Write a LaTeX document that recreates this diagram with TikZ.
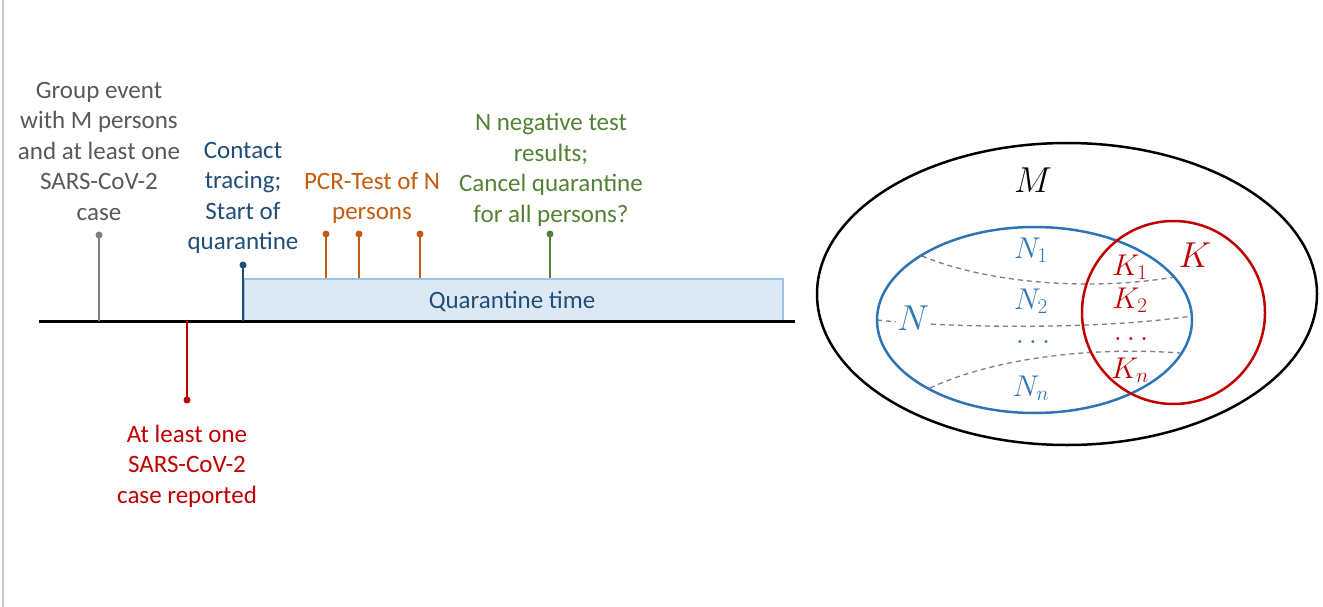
\RequirePackage{fix-cm}
\documentclass[tikz,border=0pt]{standalone}
\usepackage{fontspec}
\setmainfont{Carlito}
\definecolor{cgray}{HTML}{7F7F7F}
\definecolor{cgraytxt}{HTML}{595959}
\definecolor{cred}{HTML}{C00000}
\definecolor{cblue}{HTML}{1F4E79}
\definecolor{corange}{HTML}{C55A11}
\definecolor{cgreen}{HTML}{548235}
\definecolor{qfill}{HTML}{DDE8F5}
\definecolor{qline}{HTML}{9DC3E6}
\definecolor{vblue}{HTML}{2E75B6}
\definecolor{cframe}{HTML}{C8C8C8}
\begin{document}
\begin{tikzpicture}[x=1pt,y=-1pt,
  lbl/.style={font=\fontsize{25}{30.5}\selectfont, align=center, inner sep=0pt},
  stem/.style={line width=2pt},
  mlbl/.style={font=\fontsize{30}{34}\selectfont, inner sep=0pt},
  biglbl/.style={font=\fontsize{36}{40}\selectfont, inner sep=1pt},
  sep/.style={draw=cgray, dashed, dash pattern=on 5pt off 4pt, line width=1.3pt}]
\useasboundingbox (0,0) rectangle (1323,607);
\fill[white] (0,0) rectangle (1323,607);
% left frame line
\coordinate (fT) at (3,0);
\coordinate (fB) at (3,607);
\draw[cframe, line width=1.2pt] (fT) -- (fB);

% quarantine box
\node[draw=qline, fill=qfill, line width=1.5pt, minimum width=539pt, minimum height=43pt, inner sep=0pt, anchor=north west] (qbox) at (243,278) {};
\node[lbl, text=cblue] (qtxt) at (512,302) {Quarantine time};

% timeline
\coordinate (tL) at (39,321);
\coordinate (tR) at (795,321);
\draw[line width=3pt] (tL) -- (tR);

% gray event
\coordinate (g0) at (99,321);
\coordinate (g1) at (99,235);
\draw[stem, cgray] (g0) -- (g1);
\fill[cgray] (g1) circle (3.5pt);
\node[lbl, text=cgraytxt] (gtxt) at (99,151) {Group event\\with M persons\\and at least one\\SARS-CoV-2\\case};

% red event
\coordinate (r0) at (187,321);
\coordinate (r1) at (187,400);
\draw[stem, cred] (r0) -- (r1);
\fill[cred] (r1) circle (3.5pt);
\node[lbl, text=cred] (rtxt) at (187,466) {At least one\\SARS-CoV-2\\case reported};

% blue event
\coordinate (b0) at (243,321);
\coordinate (b1) at (243,265);
\draw[stem, cblue] (b0) -- (b1);
\fill[cblue] (b1) circle (3.5pt);
\node[lbl, text=cblue] (btxt) at (243,198) {Contact\\tracing;\\Start of\\quarantine};

% orange events
\foreach \xx/\nm in {326/o1,359/o2,420/o3}{
  \coordinate (\nm a) at (\xx,278);
  \coordinate (\nm b) at (\xx,234);
  \draw[stem, corange] (\nm a) -- (\nm b);
  \fill[corange] (\nm b) circle (3.5pt);
}
\node[lbl, text=corange] (otxt) at (372,198) {PCR-Test of N\\persons};

% green event
\coordinate (gr0) at (550,278);
\coordinate (gr1) at (550,234);
\draw[stem, cgreen] (gr0) -- (gr1);
\fill[cgreen] (gr1) circle (3.5pt);
\node[lbl, text=cgreen] (grtxt) at (551,170) {N negative test\\results;\\Cancel quarantine\\for all persons?};

% Venn diagram
\draw[line width=2.5pt] (1067,294) ellipse [x radius=250pt, y radius=151pt];
\draw[sep] (922,256) .. controls (985,282) and (1085,292) .. (1175,277);
\draw[sep] (877,320) .. controls (950,328) and (1100,330) .. (1192,316);
\draw[sep] (930,388) .. controls (990,360) and (1085,346) .. (1180,353);
\draw[vblue, line width=2.5pt] (1034.5,320) ellipse [x radius=157.5pt, y radius=93pt];
\draw[cred, line width=2.5pt] (1173.5,312.5) circle (91.5pt);

\node[biglbl] (M) at (1033,180) {$M$};
\node[biglbl, text=cred] (K) at (1195,255) {$K$};
\node[biglbl, text=vblue, fill=white] (N) at (913,318) {$N$};
\node[mlbl, text=vblue] (N1) at (1031,250) {$N_1$};
\node[mlbl, text=vblue] (N2) at (1031,301) {$N_2$};
\node[mlbl, text=vblue] (Nd) at (1033,342) {$\ldots$};
\node[mlbl, text=vblue] (Nn) at (1031,388) {$N_n$};
\node[mlbl, text=cred] (K1) at (1130,267) {$K_1$};
\node[mlbl, text=cred] (K2) at (1130,300) {$K_2$};
\node[mlbl, text=cred] (Kd) at (1131,339) {$\ldots$};
\node[mlbl, text=cred] (Kn) at (1130,370) {$K_n$};
\end{tikzpicture}
\end{document}
